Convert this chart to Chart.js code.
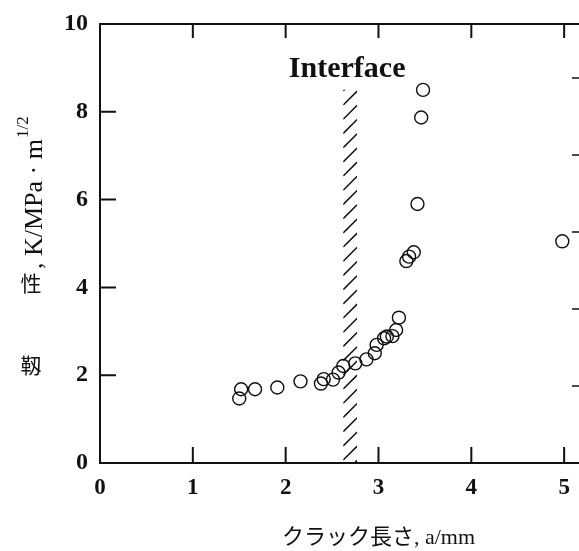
<!DOCTYPE html>
<html>
<head>
<meta charset="utf-8">
<script src="https://cdn.jsdelivr.net/npm/chart.js@4/dist/chart.umd.min.js"></script>
<style>
  html, body { margin: 0; padding: 0; background: #fff; }
  #wrap { width: 579px; height: 551px; }
</style>
</head>
<body>
<div id="wrap"><canvas id="c" width="579" height="551"></canvas></div>
<script>
// crack length a (mm) and toughness K (MPa·m^1/2)
const CRACK_A = [1.50, 1.52, 1.67, 1.91, 2.16, 2.38, 2.41, 2.51, 2.57, 2.62, 2.75, 2.87, 2.96, 2.98, 3.06, 3.09, 3.15, 3.19, 3.22, 3.30, 3.33, 3.38, 3.42, 3.46, 3.48, 4.98];
const TOUGH_K = [1.47, 1.68, 1.68, 1.72, 1.86, 1.81, 1.91, 1.90, 2.06, 2.21, 2.27, 2.36, 2.50, 2.69, 2.84, 2.88, 2.89, 3.03, 3.31, 4.60, 4.70, 4.80, 5.90, 7.87, 8.50, 5.05];

const X_TICKS = [0, 1, 2, 3, 4, 5];
const Y_TICKS = [0, 2, 4, 6, 8, 10];
const RIGHT_TICKS = [1, 2, 3, 4, 5];

// interface band: a from .. to, and top in K
const INTERFACE_A = [2.62, 2.77];
const INTERFACE_TOP = 8.5;
const INTERFACE_LABEL = 'Interface';

const X_TITLE = 'クラック長さ, a/mm';
const Y_TITLE_CJK = ['靱', '性'];
const Y_TITLE_LATIN = ', K/MPa · m';
const Y_TITLE_SUP = '1/2';

const SERIF = '"Liberation Serif", "Noto Sans CJK JP", serif';
const INK = '#111';

const frame = {
    id: 'frame',
    beforeDatasetsDraw(chart) {
        const { ctx, chartArea: a, scales: { x, y, y2 } } = chart;
        ctx.save();
        ctx.strokeStyle = INK;
        ctx.lineWidth = 2;
        // top border
        ctx.beginPath();
        ctx.moveTo(a.left, a.top);
        ctx.lineTo(a.right, a.top);
        ctx.stroke();
        // inward ticks
        ctx.beginPath();
        X_TICKS.slice(1).forEach(v => {
            const px = x.getPixelForValue(v);
            ctx.moveTo(px, a.bottom); ctx.lineTo(px, a.bottom - 16);
            ctx.moveTo(px, a.top); ctx.lineTo(px, a.top + 14);
        });
        Y_TICKS.slice(1, -1).forEach(v => {
            const py = y.getPixelForValue(v);
            ctx.moveTo(a.left, py); ctx.lineTo(a.left + 16, py);
        });
        ctx.stroke();
        ctx.lineWidth = 1.5;
        ctx.beginPath();
        RIGHT_TICKS.forEach(v => {
            const py = y2.getPixelForValue(v);
            ctx.moveTo(a.right, py); ctx.lineTo(a.right - 7, py);
        });
        ctx.stroke();

        // hatched interface band
        const l = x.getPixelForValue(INTERFACE_A[0]);
        const r = x.getPixelForValue(INTERFACE_A[1]);
        const t = y.getPixelForValue(INTERFACE_TOP);
        const b = y.getPixelForValue(0);
        ctx.save();
        ctx.beginPath();
        ctx.rect(l, t, r - l, b - t);
        ctx.clip();
        ctx.lineWidth = 1.5;
        ctx.beginPath();
        for (let yy = t; yy < b + (r - l) + 14; yy += 14.2) {
            ctx.moveTo(l, yy + 1);
            ctx.lineTo(r, yy + 1 - (r - l));
        }
        ctx.stroke();
        ctx.restore();

        ctx.fillStyle = INK;
        ctx.font = 'bold 30px ' + SERIF;
        ctx.textAlign = 'center';
        ctx.textBaseline = 'alphabetic';
        ctx.fillText(INTERFACE_LABEL, (l + r) / 2 - 3, t - 13);

        // x title, under the 2..4 ticks
        ctx.font = '22px ' + SERIF;
        ctx.textBaseline = 'middle';
        ctx.fillText(X_TITLE, x.getPixelForValue(3), 538);

        // y title: upright kanji, rotated latin part
        ctx.font = '21px "Noto Sans CJK JP", sans-serif';
        ctx.fillText(Y_TITLE_CJK[0], 31, 365);
        ctx.fillText(Y_TITLE_CJK[1], 31, 283);
        ctx.translate(35, 269);
        ctx.rotate(-Math.PI / 2);
        ctx.textAlign = 'left';
        ctx.font = '26px ' + SERIF;
        ctx.fillText(Y_TITLE_LATIN, 0, 0);
        const w = ctx.measureText(Y_TITLE_LATIN).width;
        ctx.font = '17px ' + SERIF;
        ctx.fillText(Y_TITLE_SUP, w + 1, -11);
        ctx.restore();
    }
};

new Chart(document.getElementById('c'), {
    type: 'scatter',
    data: {
        datasets: [{
            data: CRACK_A.map((a, i) => ({ x: a, y: TOUGH_K[i] })),
            pointStyle: 'circle',
            pointRadius: 6.5,
            pointHoverRadius: 6.5,
            backgroundColor: 'rgba(0,0,0,0)',
            borderColor: INK,
            pointBorderWidth: 1.4,
        }],
    },
    options: {
        responsive: false,
        animation: false,
        devicePixelRatio: 1,
        layout: { autoPadding: false, padding: { top: 24, right: 0, left: 0, bottom: 0 } },
        plugins: {
            legend: { display: false },
            tooltip: { enabled: false },
        },
        scales: {
            x: {
                type: 'linear',
                min: 0,
                max: 5.16,
                afterBuildTicks: s => { s.ticks = X_TICKS.map(v => ({ value: v })); },
                afterFit: s => { s.height = 88; s.paddingRight = 0; s.paddingLeft = 0; },
                grid: { display: false, drawTicks: false },
                border: { display: true, color: INK, width: 2 },
                ticks: {
                    color: INK,
                    padding: 11,
                    maxRotation: 0,
                    font: { family: SERIF, size: 23, weight: 'bold' },
                },
            },
            y: {
                min: 0,
                max: 10,
                afterBuildTicks: s => { s.ticks = Y_TICKS.map(v => ({ value: v })); },
                afterFit: s => { s.width = 100; s.paddingTop = 0; s.paddingBottom = 0; },
                grid: { display: false, drawTicks: false },
                border: { display: true, color: INK, width: 2 },
                ticks: {
                    color: INK,
                    padding: 12,
                    font: { family: SERIF, size: 24, weight: 'bold' },
                },
            },
            y2: {
                display: false,
                position: 'right',
                min: 0,
                max: 5.7,
            },
        },
    },
    plugins: [frame],
});
</script>
</body>
</html>
